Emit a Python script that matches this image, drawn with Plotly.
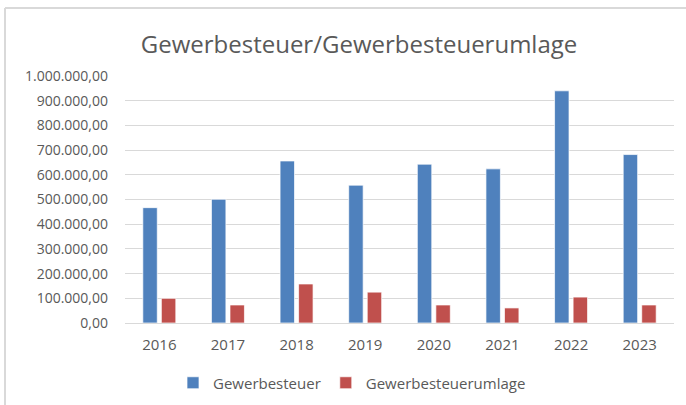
import plotly.graph_objects as go

years = ["2016", "2017", "2018", "2019", "2020", "2021", "2022", "2023"]
gewerbesteuer = [467000, 501000, 656000, 558000, 643000, 624000, 940000, 682000]
umlage = [100000, 73000, 158000, 125000, 73000, 61000, 105000, 73000]
ytickvals = [0, 100000, 200000, 300000, 400000, 500000, 600000, 700000, 800000, 900000, 1000000]

W, H = 686, 405
font = "Open Sans"
gray = "#595959"
PL, PR, PT, PB = 125, 12, 76, 82
PW, PH = W - PL - PR, H - PT - PB

fig = go.Figure()
fig.add_trace(go.Bar(x=years, y=gewerbesteuer, name="Gewerbesteuer",
                     marker=dict(color="#4F81BD", line=dict(color="rgba(255,255,255,0.7)", width=1))))
fig.add_trace(go.Bar(x=years, y=umlage, name="Gewerbesteuerumlage",
                     marker=dict(color="#C0504D", line=dict(color="rgba(255,255,255,0.7)", width=1))))

fig.update_layout(
    width=W, height=H,
    margin=dict(l=PL, r=PR, t=PT, b=PB, autoexpand=False),
    paper_bgcolor="white", plot_bgcolor="white",
    separators=",.",
    barmode="group", bargap=0.46, bargroupgap=0.22,
    font=dict(family=font, color=gray, size=12),
    title=dict(text="Gewerbesteuer/Gewerbesteuerumlage", x=359 / W, xanchor="center",
               y=1 - 45 / H, yanchor="middle",
               font=dict(family=font, size=24, color=gray)),
    showlegend=True,
    legend=dict(orientation="h", x=(352 - PL) / PW, xanchor="center",
                y=-(383 - (PT + PH)) / PH, yanchor="middle",
                font=dict(family=font, size=15, color=gray),
                itemwidth=30, traceorder="normal"),
    xaxis=dict(showgrid=False, showline=False, ticks="", ticklabelstandoff=11,
               tickfont=dict(family=font, size=15, color=gray)),
    yaxis=dict(range=[0, 1000000], tickvals=ytickvals, tickformat=",.2f",
               showgrid=True, gridcolor="#d9d9d9", gridwidth=1,
               zeroline=True, zerolinecolor="#d9d9d9", zerolinewidth=1,
               ticks="", ticklabelstandoff=16,
               tickfont=dict(family=font, size=14, color=gray)),
    shapes=[
        dict(type="line", xref="paper", yref="paper", x0=-(PL - 5) / PW, x1=(W - PL) / PW,
             y0=1 + (PT - 8) / PH, y1=1 + (PT - 8) / PH, line=dict(color="#d9d9d9", width=2)),
        dict(type="line", xref="paper", yref="paper", x0=-(PL - 5) / PW, x1=-(PL - 5) / PW,
             y0=1 + (PT - 8) / PH, y1=-PB / PH, line=dict(color="#d9d9d9", width=2)),
    ],
)

fig.write_html("out.html", config={"displayModeBar": False},
               post_script="document.body.style.margin='0';document.body.style.overflow='hidden';")
